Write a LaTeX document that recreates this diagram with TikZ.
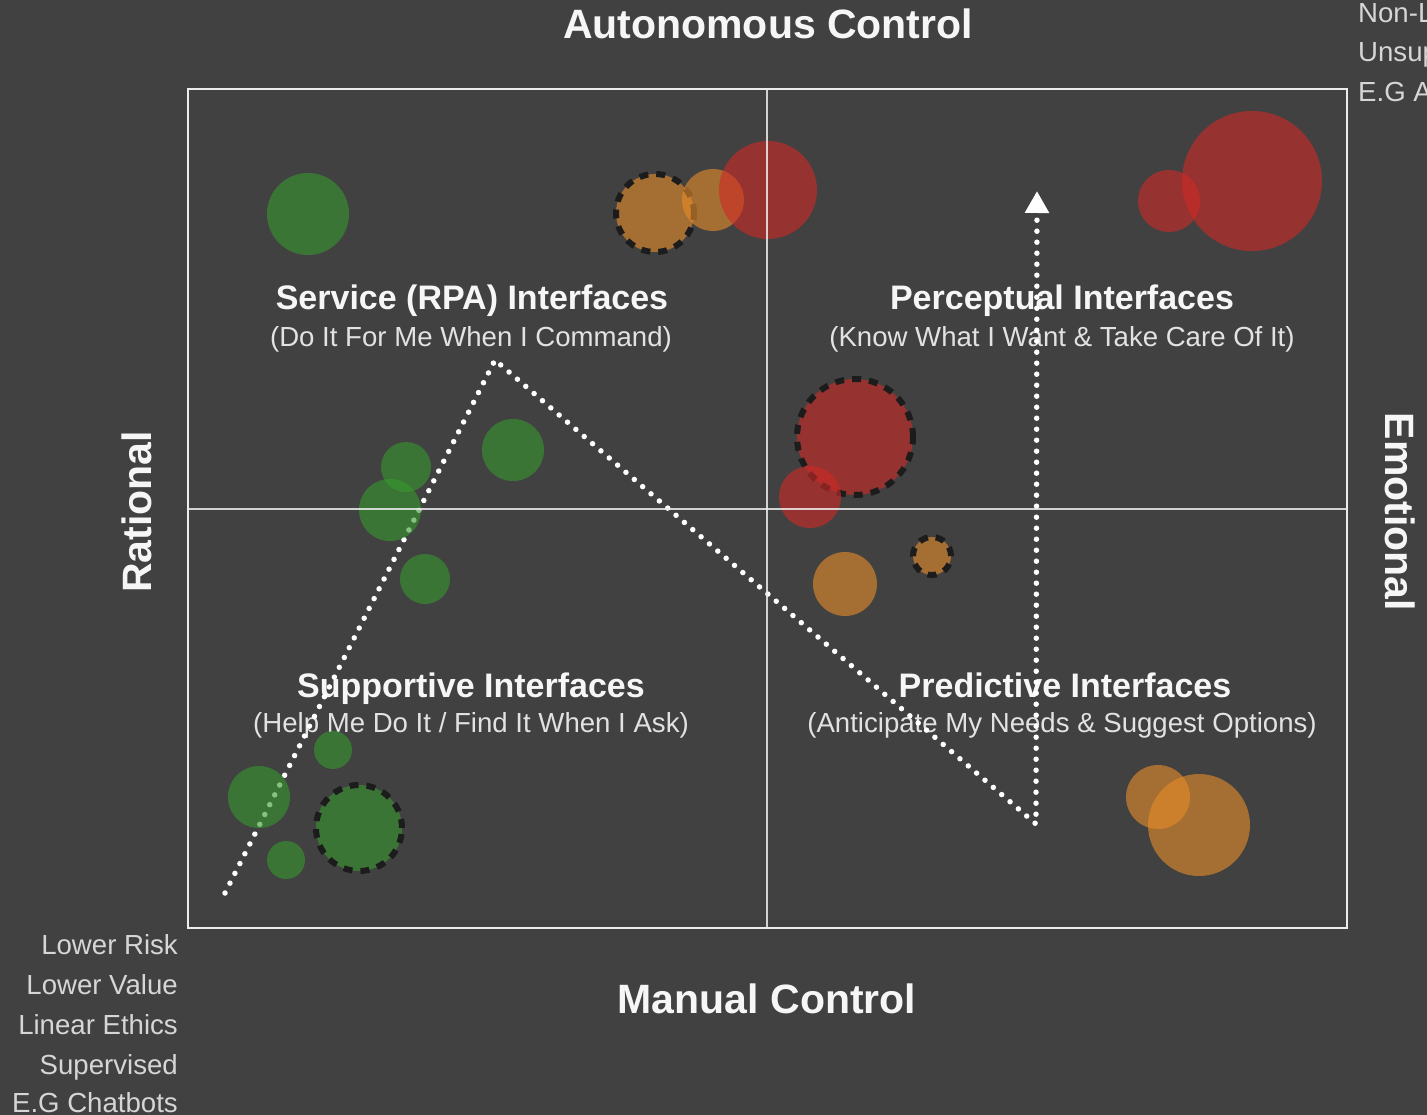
\documentclass[tikz,border=0pt]{standalone}
\usepackage{fontspec}
\setmainfont{Liberation Sans}
\usetikzlibrary{arrows.meta}

\definecolor{bgcol}{RGB}{65,65,65}
\definecolor{gridcol}{RGB}{236,236,236}
\definecolor{titlecol}{RGB}{246,246,246}
\definecolor{subcol}{RGB}{226,226,226}
\definecolor{notecol}{RGB}{214,214,214}
\definecolor{grncol}{RGB}{55,153,46}
\definecolor{orgcol}{RGB}{232,140,40}
\definecolor{redcol}{RGB}{207,40,37}
\definecolor{ringcol}{RGB}{28,28,28}

\begin{document}
\begin{tikzpicture}[x=1pt,y=-1pt,
  axislabel/.style={font=\fontsize{41}{41}\selectfont\bfseries, text=titlecol, inner sep=0pt},
  quadtitle/.style={font=\fontsize{34}{34}\selectfont\bfseries, text=titlecol, inner sep=0pt, anchor=base},
  quadsub/.style={font=\fontsize{27.6}{28}\selectfont, text=subcol, inner sep=0pt, anchor=base},
  sidenote/.style={font=\fontsize{27.6}{28}\selectfont, text=notecol, inner sep=0pt},
  grn/.style={fill=grncol, fill opacity=0.6},
  org/.style={fill=orgcol, fill opacity=0.6},
  rd/.style={fill=redcol, fill opacity=0.6},
  ring/.style={draw=ringcol, line width=6pt, dash pattern=on 9pt off 8pt},
  trail/.style={draw=white, line width=5.5pt, line cap=round, dash pattern=on 0pt off 11pt},
  gridline/.style={draw=gridcol, line width=2.5pt}
]
\useasboundingbox (0,0) rectangle (1427,1115);
\fill[bgcol] (0,0) rectangle (1427,1115);

\begin{scope}
\clip (0,0) rectangle (1427,1115);

% axis labels
\node[axislabel, anchor=base] (auto) at (768,39) {Autonomous Control};
\node[axislabel, anchor=base] (manual) at (767,1013) {Manual Control};
\node[axislabel, rotate=90] (rational) at (137,512) {Rational};
\node[axislabel, rotate=-90] (emotional) at (1400,512) {Emotional};

% low-risk notes
\node[sidenote, anchor=base east] (n1) at (178,954) {Lower Risk};
\node[sidenote, anchor=base east] (n2) at (178,994) {Lower Value};
\node[sidenote, anchor=base east] (n3) at (178,1034) {Linear Ethics};
\node[sidenote, anchor=base east] (n4) at (178,1074) {Supervised};
\node[sidenote, anchor=base east] (n5) at (178,1112) {E.G Chatbots};

% high-risk notes
\node[sidenote, anchor=base west] (h1) at (1358,23) {Non-Linear Ethics};
\node[sidenote, anchor=base west] (h2) at (1358,62) {Unsupervised};
\node[sidenote, anchor=base west] (h3) at (1358,102) {E.G Autonomous};

% quadrant headings
\node[quadtitle] (svc) at (472,310) {Service (RPA) Interfaces};
\node[quadsub] (svcsub) at (471,346) {(Do It For Me When I Command)};
\node[quadtitle] (per) at (1062,310) {Perceptual Interfaces};
\node[quadsub] (persub) at (1062,346) {(Know What I Want \& Take Care Of It)};
\node[quadtitle] (sup) at (471,697) {Supportive Interfaces};
\node[quadsub] (supsub) at (471,732) {(Help Me Do It / Find It When I Ask)};
\node[quadtitle] (pre) at (1065,697) {Predictive Interfaces};
\node[quadsub] (presub) at (1062,732) {(Anticipate My Needs \& Suggest Options)};

% maturity trail
\coordinate (t0) at (225,893);
\coordinate (t1) at (495,360);
\coordinate (t2) at (1036,824);
\coordinate (t3) at (1037,191);
\draw[trail, -{Triangle[width=23pt,length=22pt]}] (t0) -- (t1) -- (t2) -- (t3);

% green bubbles
\fill[grn] (308,214) circle[radius=41pt];
\fill[grn] (513,450) circle[radius=31pt];
\fill[grn] (406,467) circle[radius=25pt];
\fill[grn] (390,510) circle[radius=31pt];
\fill[grn] (425,579) circle[radius=25pt];
\fill[grn] (333,750) circle[radius=19pt];
\fill[grn] (259,797) circle[radius=31pt];
\fill[grn] (286,860) circle[radius=19pt];
\fill[grn] (359,828) circle[radius=43pt];
\draw[ring] (359,828) circle[radius=43pt];

% orange bubbles
\fill[org] (655,213) circle[radius=39pt];
\draw[ring] (655,213) circle[radius=39pt];
\fill[org] (713,200) circle[radius=31pt];
\fill[org] (845,584) circle[radius=32pt];
\fill[org] (932,556) circle[radius=19pt];
\draw[ring] (932,556) circle[radius=19pt];
\fill[org] (1158,797) circle[radius=32pt];
\fill[org] (1199,825) circle[radius=51pt];

% red bubbles
\fill[rd] (768,190) circle[radius=49pt];
\fill[rd] (855,437) circle[radius=58pt];
\draw[ring] (855,437) circle[radius=58pt];
\fill[rd] (810,497) circle[radius=31pt];
\fill[rd] (1169,201) circle[radius=31pt];
\fill[rd] (1252,181) circle[radius=70pt];

% quadrant frame
\draw[gridline, draw opacity=0.85] (767,89) -- (767,928);
\draw[gridline, draw opacity=0.85] (188,509) -- (1347,509);
\draw[gridline] (188,89) rectangle (1347,928);
\end{scope}
\end{tikzpicture}
\end{document}
